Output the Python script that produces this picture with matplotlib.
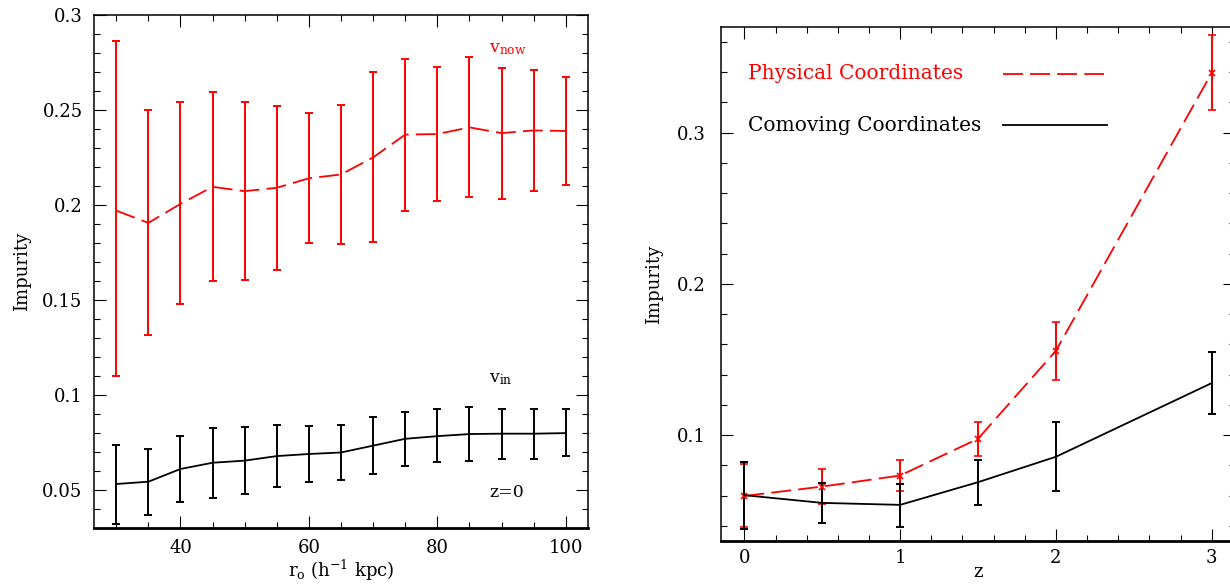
import numpy as np
import matplotlib
matplotlib.use('Agg')
import matplotlib.pyplot as plt
from matplotlib.ticker import MultipleLocator, FormatStrFormatter

plt.rcParams['font.family'] = ['DejaVu Serif']
plt.rcParams['mathtext.fontset'] = 'dejavuserif'

# ---- left panel: impurity vs r_o (z=0) ----
r0 = [30, 35, 40, 45, 50, 55, 60, 65, 70, 75, 80, 85, 90, 95, 100]
vnow = [0.197, 0.1905, 0.2005, 0.2095, 0.2072, 0.209, 0.214, 0.216, 0.225, 0.237, 0.2373, 0.2408, 0.2378, 0.2392, 0.2389]
vnow_hi = [0.2864, 0.2502, 0.2542, 0.2594, 0.2544, 0.252, 0.2484, 0.2527, 0.270, 0.277, 0.2726, 0.2781, 0.2723, 0.271, 0.2671]
vnow_lo = [0.1098, 0.1316, 0.1477, 0.1599, 0.1603, 0.1655, 0.1799, 0.1793, 0.1804, 0.197, 0.202, 0.2041, 0.203, 0.2074, 0.2106]
vin = [0.053, 0.0542, 0.0609, 0.0642, 0.0653, 0.0677, 0.0688, 0.0696, 0.0732, 0.0768, 0.0782, 0.0793, 0.0795, 0.0795, 0.0798]
vin_hi = [0.0737, 0.0716, 0.0784, 0.0823, 0.0828, 0.084, 0.0835, 0.0842, 0.0884, 0.091, 0.0923, 0.0933, 0.0926, 0.0925, 0.0923]
vin_lo = [0.0321, 0.0367, 0.0433, 0.0458, 0.0475, 0.0516, 0.054, 0.0551, 0.0582, 0.0623, 0.0644, 0.0651, 0.0663, 0.0663, 0.0675]

# ---- right panel: impurity vs z ----
z = [0, 0.5, 1, 1.5, 2, 3]
phys = [0.0598, 0.066, 0.0733, 0.0976, 0.1558, 0.3395]
phys_hi = [0.0806, 0.0775, 0.0834, 0.1088, 0.175, 0.3645]
phys_lo = [0.039, 0.0543, 0.0629, 0.0861, 0.1366, 0.3152]
como = [0.0603, 0.0552, 0.0539, 0.0689, 0.0857, 0.1344]
como_hi = [0.0821, 0.0684, 0.0678, 0.0834, 0.1084, 0.1552]
como_lo = [0.0382, 0.0419, 0.0395, 0.0541, 0.0631, 0.1143]

RED = '#ff0000'
DASH = (11, 4)


def err(c, lo, hi):
    c = np.asarray(c); return [c - np.asarray(lo), np.asarray(hi) - c]


def style(ax):
    ax.tick_params(which='both', direction='in', top=True, right=True, width=0.8, labelsize=13)
    ax.tick_params(which='major', length=8.5, pad=8)
    ax.tick_params(which='minor', length=4.5)
    for s in ['top', 'left', 'right']:
        ax.spines[s].set_linewidth(1.1)
    ax.spines['bottom'].set_linewidth(2.0)
    ax.yaxis.set_major_formatter(FormatStrFormatter('%g'))


fig = plt.figure(figsize=(12.3, 5.85), dpi=100)

ax1 = fig.add_axes([0.0762, 0.098, 0.4021, 0.8764])
ax1.errorbar(r0, vnow, yerr=err(vnow, vnow_lo, vnow_hi), color=RED, lw=1.3, dashes=DASH,
             elinewidth=1.4, capsize=2.6, capthick=1.4)
ax1.errorbar(r0, vin, yerr=err(vin, vin_lo, vin_hi), color='k', lw=1.3,
             elinewidth=1.4, capsize=2.6, capthick=1.4)
ax1.set_xlim(26.5, 103.5)
ax1.set_ylim(0.03, 0.3)
ax1.xaxis.set_major_locator(MultipleLocator(20))
ax1.xaxis.set_minor_locator(MultipleLocator(5))
ax1.yaxis.set_major_locator(MultipleLocator(0.05))
ax1.yaxis.set_minor_locator(MultipleLocator(0.01))
style(ax1)
ax1.set_xlabel(r'r$_\mathrm{o}$ (h$^{-1}$ kpc)', fontsize=13, labelpad=1)
ax1.set_ylabel('Impurity', fontsize=13, labelpad=8)
ax1.text(88.1, 0.2805, r'v$_\mathrm{now}$', color=RED, fontsize=12.5, va='baseline')
ax1.text(88.1, 0.1063, r'v$_\mathrm{in}$', color='k', fontsize=12.5, va='baseline')
ax1.text(88.1, 0.0463, 'z=0', color='k', fontsize=12.5, va='baseline')

ax2 = fig.add_axes([0.5862, 0.0752, 0.4179, 0.879])
ax2.errorbar(z, phys, yerr=err(phys, phys_lo, phys_hi), color=RED, lw=1.3, dashes=DASH,
             marker='x', ms=4, mew=1.2, elinewidth=1.4, capsize=2.6, capthick=1.4)
ax2.errorbar(z, como, yerr=err(como, como_lo, como_hi), color='k', lw=1.3,
             elinewidth=1.4, capsize=2.6, capthick=1.4)
ax2.set_xlim(-0.15, 3.15)
ax2.set_ylim(0.03, 0.37)
ax2.xaxis.set_major_locator(MultipleLocator(1))
ax2.xaxis.set_minor_locator(MultipleLocator(0.2))
ax2.yaxis.set_major_locator(MultipleLocator(0.1))
ax2.yaxis.set_minor_locator(MultipleLocator(0.02))
style(ax2)
ax2.tick_params(axis='x', which='major', pad=6)
ax2.tick_params(axis='y', which='major', pad=11)
ax2.set_xlabel('z', fontsize=13, labelpad=-3)
ax2.set_ylabel('Impurity', fontsize=13, labelpad=10)

# legend drawn by hand in axes coordinates
ax2.text(0.053, 0.909, 'Physical Coordinates', color=RED, fontsize=14.5, va='center',
         transform=ax2.transAxes)
ax2.plot([0.549, 0.745], [0.909, 0.909], color=RED, lw=1.3, dashes=DASH, transform=ax2.transAxes)
ax2.text(0.053, 0.809, 'Comoving Coordinates', color='k', fontsize=14.5, va='center',
         transform=ax2.transAxes)
ax2.plot([0.549, 0.750], [0.809, 0.809], color='k', lw=1.3, transform=ax2.transAxes)

fig.savefig('out.png', dpi=100)
